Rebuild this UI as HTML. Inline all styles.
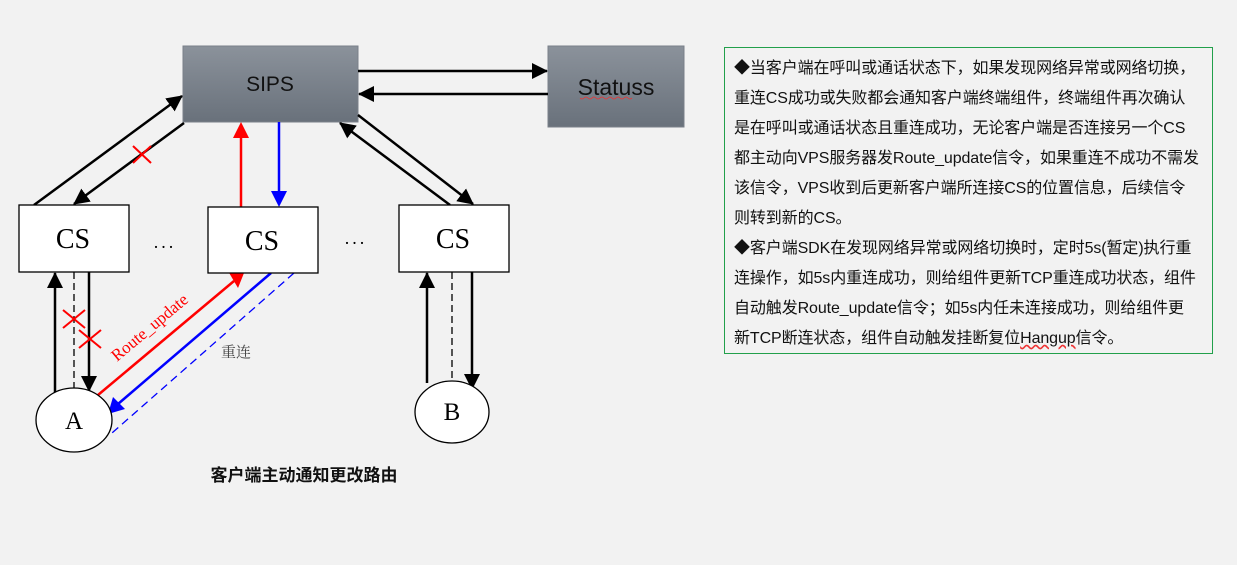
<!DOCTYPE html>
<html><head><meta charset="utf-8"><style>
html,body{margin:0;padding:0;background:#f2f2f2;}
.tb{position:absolute;left:724px;top:47px;width:489px;height:307px;border:1px solid #22a04b;box-sizing:border-box;padding:6px 0 0 9px;font-family:"Liberation Sans","Noto Sans CJK SC",sans-serif;font-size:16px;line-height:30px;color:#111;letter-spacing:-0.1px;}
.tb p{margin:0;white-space:nowrap;}
</style></head><body>
<div style="position:relative;width:1237px;height:565px;overflow:hidden;">
<svg width="1237" height="565" style="position:absolute;left:0;top:0" xmlns="http://www.w3.org/2000/svg">
<defs>
<linearGradient id="g" x1="0" y1="0" x2="0" y2="1"><stop offset="0" stop-color="#8b929b"/><stop offset="1" stop-color="#69717b"/></linearGradient>
<marker id="ab2" markerWidth="16" markerHeight="16" refX="15" refY="8" orient="auto" markerUnits="userSpaceOnUse" viewBox="0 0 16 16"><path d="M0,0 L16,8 L0,16z" fill="#000"/></marker>
</defs>
<rect x="183" y="46" width="175" height="76" fill="url(#g)" stroke="#7a8089"/>
<text x="270" y="91" font-family="Liberation Sans,sans-serif" font-size="21" text-anchor="middle" fill="#111">SIPS</text>
<rect x="548" y="46" width="136" height="81" fill="url(#g)" stroke="#7a8089"/>
<text x="616" y="95" font-family="Liberation Sans,sans-serif" font-size="23" text-anchor="middle" fill="#111">Statuss</text>
<path d="M580,98 q2,2 4,0 t4,0 t4,0 t4,0 t4,0 t4,0 t4,0 t4,0 t4,0 t4,0 t4,0 t4,0 t4,0" stroke="#e33" fill="none" stroke-width="0.8"/>
<g stroke="#000" stroke-width="2.5" fill="none">
<line x1="358" y1="71" x2="547" y2="71" marker-end="url(#ab2)"/>
<line x1="548" y1="94" x2="359" y2="94" marker-end="url(#ab2)"/>
<line x1="34" y1="205" x2="182" y2="96" marker-end="url(#ab2)"/>
<line x1="184" y1="123" x2="74" y2="204" marker-end="url(#ab2)"/>
<line x1="450" y1="205" x2="340" y2="123" marker-end="url(#ab2)"/>
<line x1="358" y1="115" x2="473" y2="204" marker-end="url(#ab2)"/>
<line x1="55" y1="393" x2="55" y2="273" marker-end="url(#ab2)"/>
<line x1="89" y1="272" x2="89" y2="391" marker-end="url(#ab2)"/>
<line x1="427" y1="383" x2="427" y2="273" marker-end="url(#ab2)"/>
<line x1="472" y1="272" x2="472" y2="389" marker-end="url(#ab2)"/>
</g>
<g stroke="#000" stroke-width="1.3" stroke-dasharray="7,4">
<line x1="74" y1="272" x2="74" y2="388"/>
<line x1="452" y1="272" x2="452" y2="381"/>
</g>
<line x1="241" y1="207" x2="241" y2="130" stroke="#f00" stroke-width="2.5"/>
<path d="M233,138 L241,122 L249,138z" fill="#f00"/>
<line x1="279" y1="122" x2="279" y2="196" stroke="#00f" stroke-width="2.5"/>
<path d="M271,191 L279,207 L287,191z" fill="#00f"/>
<line x1="98" y1="395" x2="234" y2="281" stroke="#f00" stroke-width="2.5"/>
<path d="M228,271 L244,273 L238,288z" fill="#f00"/>
<line x1="271" y1="273" x2="118" y2="404" stroke="#00f" stroke-width="2.5"/>
<path d="M108,414 L113,397 L125,409z" fill="#00f"/>
<line x1="294" y1="273" x2="112" y2="433" stroke="#00f" stroke-width="1.3" stroke-dasharray="8,5"/>
<g stroke="#f00" stroke-width="2">
<line x1="133" y1="146" x2="151" y2="163"/><line x1="151" y1="146" x2="133" y2="163"/>
<line x1="63" y1="310" x2="85" y2="328"/><line x1="85" y1="310" x2="63" y2="328"/>
<line x1="79" y1="330" x2="101" y2="348"/><line x1="101" y1="330" x2="79" y2="348"/>
</g>
<rect x="19" y="205" width="110" height="67" fill="#fff" stroke="#000" stroke-width="1.3"/>
<rect x="208" y="207" width="110" height="66" fill="#fff" stroke="#000" stroke-width="1.3"/>
<rect x="399" y="205" width="110" height="67" fill="#fff" stroke="#000" stroke-width="1.3"/>
<g font-family="Liberation Serif,serif" font-size="28" text-anchor="middle" fill="#000">
<text x="73" y="248">CS</text><text x="262" y="250">CS</text><text x="453" y="248">CS</text>
</g>
<text x="165" y="248" font-family="Liberation Serif,serif" font-size="18" text-anchor="middle" letter-spacing="3">...</text>
<text x="356" y="244" font-family="Liberation Serif,serif" font-size="18" text-anchor="middle" letter-spacing="3">...</text>
<ellipse cx="74" cy="420" rx="38" ry="32" fill="#fff" stroke="#000" stroke-width="1.3"/>
<ellipse cx="452" cy="412" rx="37" ry="31" fill="#fff" stroke="#000" stroke-width="1.3"/>
<text x="74" y="429" font-family="Liberation Serif,serif" font-size="25" text-anchor="middle">A</text>
<text x="452" y="420" font-family="Liberation Serif,serif" font-size="25" text-anchor="middle">B</text>
<text transform="translate(117,362) rotate(-40)" font-family="Liberation Serif,serif" font-size="17" fill="#f00">Route_update</text>
<text x="221" y="357" font-family="Noto Serif CJK SC,serif" font-size="15" fill="#444">重连</text>
<text x="304" y="481" font-family="Liberation Sans,Noto Sans CJK SC,sans-serif" font-size="17" font-weight="bold" text-anchor="middle" fill="#111">客户端主动通知更改路由</text>
</svg>
<div class="tb">
<p>◆当客户端在呼叫或通话状态下，如果发现网络异常或网络切换，</p>
<p>重连CS成功或失败都会通知客户端终端组件，终端组件再次确认</p>
<p>是在呼叫或通话状态且重连成功，无论客户端是否连接另一个CS</p>
<p>都主动向VPS服务器发Route_update信令，如果重连不成功不需发</p>
<p>该信令，VPS收到后更新客户端所连接CS的位置信息，后续信令</p>
<p>则转到新的CS。</p>
<p>◆客户端SDK在发现网络异常或网络切换时，定时5s(暂定)执行重</p>
<p>连操作，如5s内重连成功，则给组件更新TCP重连成功状态，组件</p>
<p>自动触发Route_update信令；如5s内任未连接成功，则给组件更</p>
<p>新TCP断连状态，组件自动触发挂断复位<span style="text-decoration:underline wavy #e33">Hangup</span>信令。</p>
</div>
</div>
</body></html>
